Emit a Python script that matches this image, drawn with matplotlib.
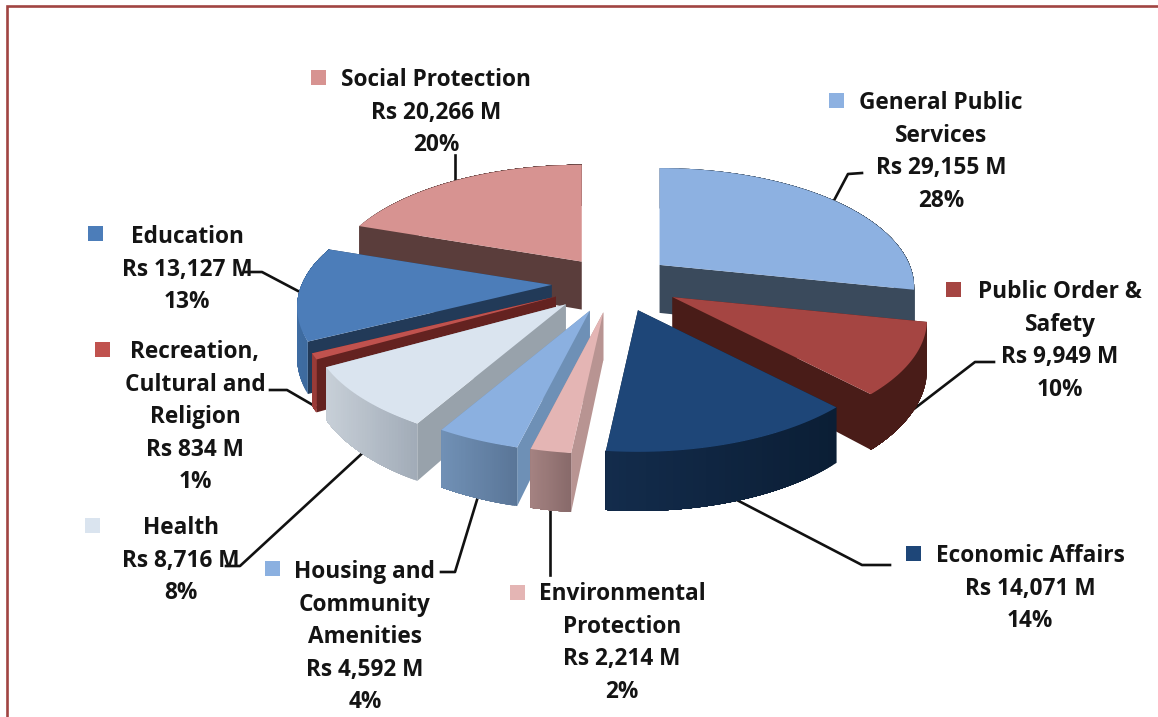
import numpy as np
import matplotlib
matplotlib.use('Agg')
import matplotlib.pyplot as plt
from matplotlib.colors import to_rgb
from matplotlib.patches import Polygon, Rectangle

# Data
categories = [
    ['General Public', 'Services'],
    ['Public Order &', 'Safety'],
    ['Economic Affairs'],
    ['Environmental', 'Protection'],
    ['Housing and', 'Community', 'Amenities'],
    ['Health'],
    ['Recreation,', 'Cultural and', 'Religion'],
    ['Education'],
    ['Social Protection'],
]
values = [29155, 9949, 14071, 2214, 4592, 8716, 834, 13127, 20266]
percents = [28, 10, 14, 2, 4, 8, 1, 13, 20]

# Colours: top, cut face, wall left, wall right
top_colors = ['#8DB1E1', '#A54542', '#1E4678', '#E4B5B4', '#8BB0E0', '#DAE4EF', '#C0524E', '#4C7DB9', '#D79391']
cut_colors = ['#3A4A5C', '#491C18', '#0C1F36', '#B89492', '#6E90B6', '#98A2AB', '#642220', '#223A58', '#5A3D3B']
wall_left = ['#3A4A5C', '#491C18', '#132C4C', '#A58382', '#7191B6', '#C8D0D8', '#9A3B38', '#3F6DA3', '#5A3D3B']
wall_right = ['#3A4A5C', '#491C18', '#0B1E35', '#886A6A', '#5A7698', '#A2ACB8', '#9A3B38', '#3A6595', '#5A3D3B']

# Label layout in image pixels: text centre x, first line y, key x, key y
label_pos = [
    (941, 101, 836, 100), (1060, 290, 953, 289), (1030, 554, 913, 553),
    (622, 592, 517, 592), (365, 570, 272, 568), (181, 526, 92, 525),
    (195, 350, 102, 349), (187, 235, 95, 233), (436, 78, 318, 77),
]
leaders = [
    [(862, 173), (848, 174), (830, 208)],
    [(994, 362), (975, 362), (910, 412)],
    [(890, 565), (862, 565), (733, 498)],
    [(550, 505), (550, 575)],
    [(441, 572), (455, 572), (480, 490)],
    [(226, 566), (240, 566), (368, 448)],
    [(270, 390), (287, 390), (318, 408)],
    [(245, 272), (262, 272), (298, 291)],
    [(455, 155), (455, 182)],
]

# Pie geometry
CX, CY = 614, 283
RX, RY = 250, 115
PERSP = 0.188
EXPLODE = 0.25
HEIGHT = 48
# small per slice corrections of the apex
nudge_x = [-3, 4, 4, 0, -1, -4, -3, 0, 4]
nudge_y = [0, 0, 0, 1, 1, 1, 0, 0, 2]


def project(apex, theta):
    x, y = np.sin(theta), -np.cos(theta)
    s = 1 / (1 - PERSP * y)
    return apex[0] + RX * x * s, apex[1] + RY * y * s, HEIGHT * s


fig = plt.figure(figsize=(11.58, 7.17), dpi=100)
ax = fig.add_axes([0, 0, 1, 1])
ax.set_xlim(0, 1158)
ax.set_ylim(717, 0)
ax.axis('off')

# Frame
ax.plot([6.5, 6.5, 1158], [717, 5.5, 5.5], color='#A04442', lw=1.9, solid_joinstyle='miter')

for pts in leaders:
    ax.plot(*zip(*pts), color='#111111', lw=1.9, zorder=1)

fractions = np.array(values) / np.sum(values)
edges = np.concatenate([[0], np.cumsum(fractions)]) * 2 * np.pi
mids = (edges[:-1] + edges[1:]) / 2

# back slices first
order = np.argsort(-np.cos(mids))
for z, i in enumerate(order):
    zo = 2 + z
    mid = mids[i]
    apex = (CX + EXPLODE * RX * np.sin(mid) + nudge_x[i], CY - EXPLODE * RY * np.cos(mid) + nudge_y[i])
    thetas = np.linspace(edges[i], edges[i + 1], 40)
    px, py, ph = project(apex, thetas)

    # cut faces
    for k in (0, -1):
        quad = [apex, (px[k], py[k]), (px[k], py[k] + ph[k]), (apex[0], apex[1] + HEIGHT)]
        ax.add_patch(Polygon(quad, closed=True, fc=cut_colors[i], ec='none', zorder=zo))

    # outer wall, shaded in strips; each strip runs to the end of the arc so no seams show
    c0, c1 = np.array(to_rgb(wall_left[i])), np.array(to_rgb(wall_right[i]))
    xmin, xmax = px.min(), px.max()
    for k in range(len(px) - 1):
        t = (px[k] - xmin) / max(xmax - xmin, 1)
        col = c0 * (1 - t) + c1 * t
        quad = list(zip(px[k:], py[k:])) + list(zip(px[k:][::-1], (py + ph)[k:][::-1]))
        ax.add_patch(Polygon(quad, closed=True, fc=col, ec='none', zorder=zo))

    # top surface
    top = [apex] + list(zip(px, py))
    ax.add_patch(Polygon(top, closed=True, fc=top_colors[i], ec='none', zorder=zo))

# Labels
LINE = 32.6
for i, (tx, ty, kx, ky) in enumerate(label_pos):
    lines = categories[i] + [f'Rs {values[i]:,} M', f'{percents[i]}%']
    for j, line in enumerate(lines):
        ax.text(tx, ty + 8 + j * LINE, line, ha='center', va='baseline', family='Open Sans',
                fontweight='bold', fontsize=16.3, color='#141414', zorder=30)
    ax.add_patch(Rectangle((kx - 7.5, ky - 7.5), 15, 15, fc=top_colors[i], ec='none', zorder=30))

fig.savefig('out.png', dpi=100)
